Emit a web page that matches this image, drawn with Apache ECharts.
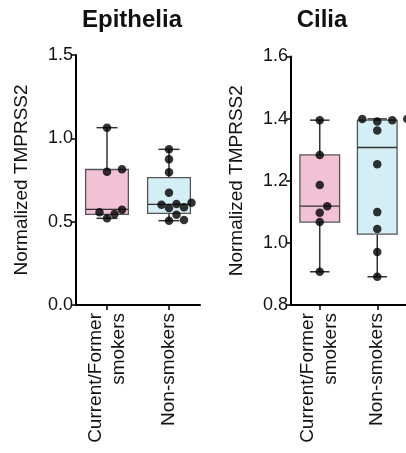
<!DOCTYPE html>
<html>
<head>
<meta charset="utf-8">
<script src="https://cdn.jsdelivr.net/npm/echarts@6/dist/echarts.min.js"></script>
<style>
html,body{margin:0;padding:0;background:#fff;}
#c{width:406px;height:453px;}
</style>
</head>
<body>
<div id="c"></div>
<script>
// ---- data ----
const CATEGORIES = ['Current/Former\nsmokers', 'Non-smokers'];
const PANEL_TITLES = ['Epithelia', 'Cilia'];
const Y_NAME = 'Normalized TMPRSS2';

const EPI_Y_TICKS = [0, 0.5, 1.0, 1.5];
const CIL_Y_TICKS = [0.8, 1.0, 1.2, 1.4, 1.6];

// individual points
const EPI_CURRENT = [1.064, 0.814, 0.800, 0.572, 0.556, 0.546, 0.520];
const EPI_NON = [0.934, 0.874, 0.796, 0.674, 0.614, 0.606, 0.602, 0.586, 0.582, 0.542, 0.510, 0.506];
const CIL_CURRENT = [1.395, 1.283, 1.186, 1.118, 1.097, 1.067, 0.907];
const CIL_NON = [1.399, 1.391, 1.395, 1.399, 1.362, 1.253, 1.099, 1.045, 0.971, 0.891];

// box statistics [min, Q1, median, Q3, max]
const EPI_BOX_CURRENT = [0.520, 0.544, 0.574, 0.813, 1.064];
const EPI_BOX_NON = [0.506, 0.550, 0.604, 0.764, 0.934];
const CIL_BOX_CURRENT = [0.907, 1.067, 1.118, 1.283, 1.395];
const CIL_BOX_NON = [0.891, 1.028, 1.307, 1.395, 1.399];

const BOX_COLORS = ['#f1c1d4', '#d4eef5'];
// ---------------------------------------

const FONT = '"Liberation Sans", Arial, Helvetica, sans-serif';
const chart = echarts.init(document.getElementById('c'), null, {renderer: 'canvas'});

function boxSeries(idx, boxes) {
  return {
    type: 'custom',
    xAxisIndex: idx, yAxisIndex: idx,
    z: 2,
    data: boxes.map((b, i) => [i].concat(b)),
    renderItem: function (params, api) {
      const cat = api.value(0);
      const catW = api.size([1, 0])[0];
      const x = api.coord([cat, api.value(1)])[0];
      const yMin = api.coord([cat, api.value(1)])[1];
      const yQ1 = api.coord([cat, api.value(2)])[1];
      const yMed = api.coord([cat, api.value(3)])[1];
      const yQ3 = api.coord([cat, api.value(4)])[1];
      const yMax = api.coord([cat, api.value(5)])[1];
      const hw = catW * 0.345;
      const cw = catW * 0.17;
      const fill = BOX_COLORS[params.dataIndex];
      const wStyle = {stroke: '#333', lineWidth: 1.5};
      return {
        type: 'group',
        children: [
          {type: 'line', shape: {x1: x, y1: yQ3, x2: x, y2: yMax}, style: wStyle},
          {type: 'line', shape: {x1: x, y1: yQ1, x2: x, y2: yMin}, style: wStyle},
          {type: 'line', shape: {x1: x - cw, y1: yMax, x2: x + cw, y2: yMax}, style: wStyle},
          {type: 'line', shape: {x1: x - cw, y1: yMin, x2: x + cw, y2: yMin}, style: wStyle},
          {type: 'rect', shape: {x: x - hw, y: yQ3, width: hw * 2, height: yQ1 - yQ3},
            style: {fill: fill, stroke: '#555', lineWidth: 1.3}},
          {type: 'line', shape: {x1: x - hw, y1: yMed, x2: x + hw, y2: yMed},
            style: {stroke: '#333', lineWidth: 1.3}}
        ]
      };
    }
  };
}

function pointSeries(idx, groups) {
  const data = [];
  groups.forEach((vals, ci) => vals.forEach(v => data.push({value: [ci, v]})));
  return {
    type: 'scatter',
    xAxisIndex: idx, yAxisIndex: idx,
    z: 5,
    symbol: 'circle',
    symbolSize: 8.5,
    itemStyle: {color: '#000'},
    data: data
  };
}

function yAxis(idx, ticks) {
  return {
    type: 'value',
    gridIndex: idx,
    min: ticks[0],
    max: ticks[ticks.length - 1],
    interval: ticks[1] - ticks[0],
    name: Y_NAME,
    nameLocation: 'middle',
    nameGap: 45,
    nameTextStyle: {fontFamily: FONT, fontSize: 19, color: '#111'},
    splitLine: {show: false},
    axisLine: {show: true, lineStyle: {color: '#000', width: 2}},
    axisTick: {show: true, length: 5, lineStyle: {color: '#000', width: 1.5}},
    axisLabel: {
      fontFamily: FONT, fontSize: 18, color: '#111', margin: 3,
      formatter: v => (+v).toFixed(1)
    }
  };
}

function xAxis(idx) {
  return {
    type: 'category',
    gridIndex: idx,
    data: CATEGORIES,
    boundaryGap: true,
    axisLine: {show: true, lineStyle: {color: '#000', width: 2}},
    axisTick: {show: true, alignWithLabel: true, length: 5, lineStyle: {color: '#000', width: 1.5}},
    axisLabel: {
      rotate: 90, interval: 0, margin: 8,
      fontFamily: FONT, fontSize: 19, lineHeight: 23, color: '#111'
    }
  };
}

const option = {
  animation: false,
  backgroundColor: '#fff',
  title: [
    {text: PANEL_TITLES[0], left: 127, top: 3, textAlign: 'center',
      textStyle: {fontFamily: FONT, fontSize: 24, fontWeight: 'bold', color: '#111'}},
    {text: PANEL_TITLES[1], left: 317, top: 3, textAlign: 'center',
      textStyle: {fontFamily: FONT, fontSize: 24, fontWeight: 'bold', color: '#111'}}
  ],
  grid: [
    {left: 76, top: 55, width: 124, height: 250},
    {left: 291, top: 56.5, width: 124, height: 248.5}
  ],
  xAxis: [xAxis(0), xAxis(1)],
  yAxis: [yAxis(0, EPI_Y_TICKS), yAxis(1, CIL_Y_TICKS)],
  series: [
    boxSeries(0, [EPI_BOX_CURRENT, EPI_BOX_NON]),
    boxSeries(1, [CIL_BOX_CURRENT, CIL_BOX_NON]),
    pointSeries(0, [EPI_CURRENT, EPI_NON]),
    pointSeries(1, [CIL_CURRENT, CIL_NON])
  ]
};
chart.setOption(option);

// beeswarm offsets computed from the chart's own scale
function swarm(values, axisIdx) {
  const d = 8, step = 7.5;
  const pts = values.map((v, i) => ({i: i, y: chart.convertToPixel({yAxisIndex: axisIdx}, v)}));
  const order = pts.slice().sort((a, b) => b.y - a.y);
  const placed = [];
  const off = new Array(values.length).fill(0);
  order.forEach(p => {
    for (let k = 0; k < 20; k++) {
      const n = Math.ceil(k / 2);
      const dx = k === 0 ? 0 : (k % 2 === 1 ? n * step : -n * step);
      if (placed.every(q => (q.dx - dx) ** 2 + (q.y - p.y) ** 2 >= d * d)) {
        placed.push({dx: dx, y: p.y});
        off[p.i] = dx;
        break;
      }
    }
  });
  return off;
}

function swarmData(groups, axisIdx) {
  const data = [];
  groups.forEach((vals, ci) => {
    const off = swarm(vals, axisIdx);
    vals.forEach((v, j) => data.push({value: [ci, v], symbolOffset: [off[j], 0]}));
  });
  return data;
}

chart.setOption({
  series: [
    {}, {},
    {data: swarmData([EPI_CURRENT, EPI_NON], 0)},
    {data: swarmData([CIL_CURRENT, CIL_NON], 1)}
  ]
});
</script>
</body>
</html>
